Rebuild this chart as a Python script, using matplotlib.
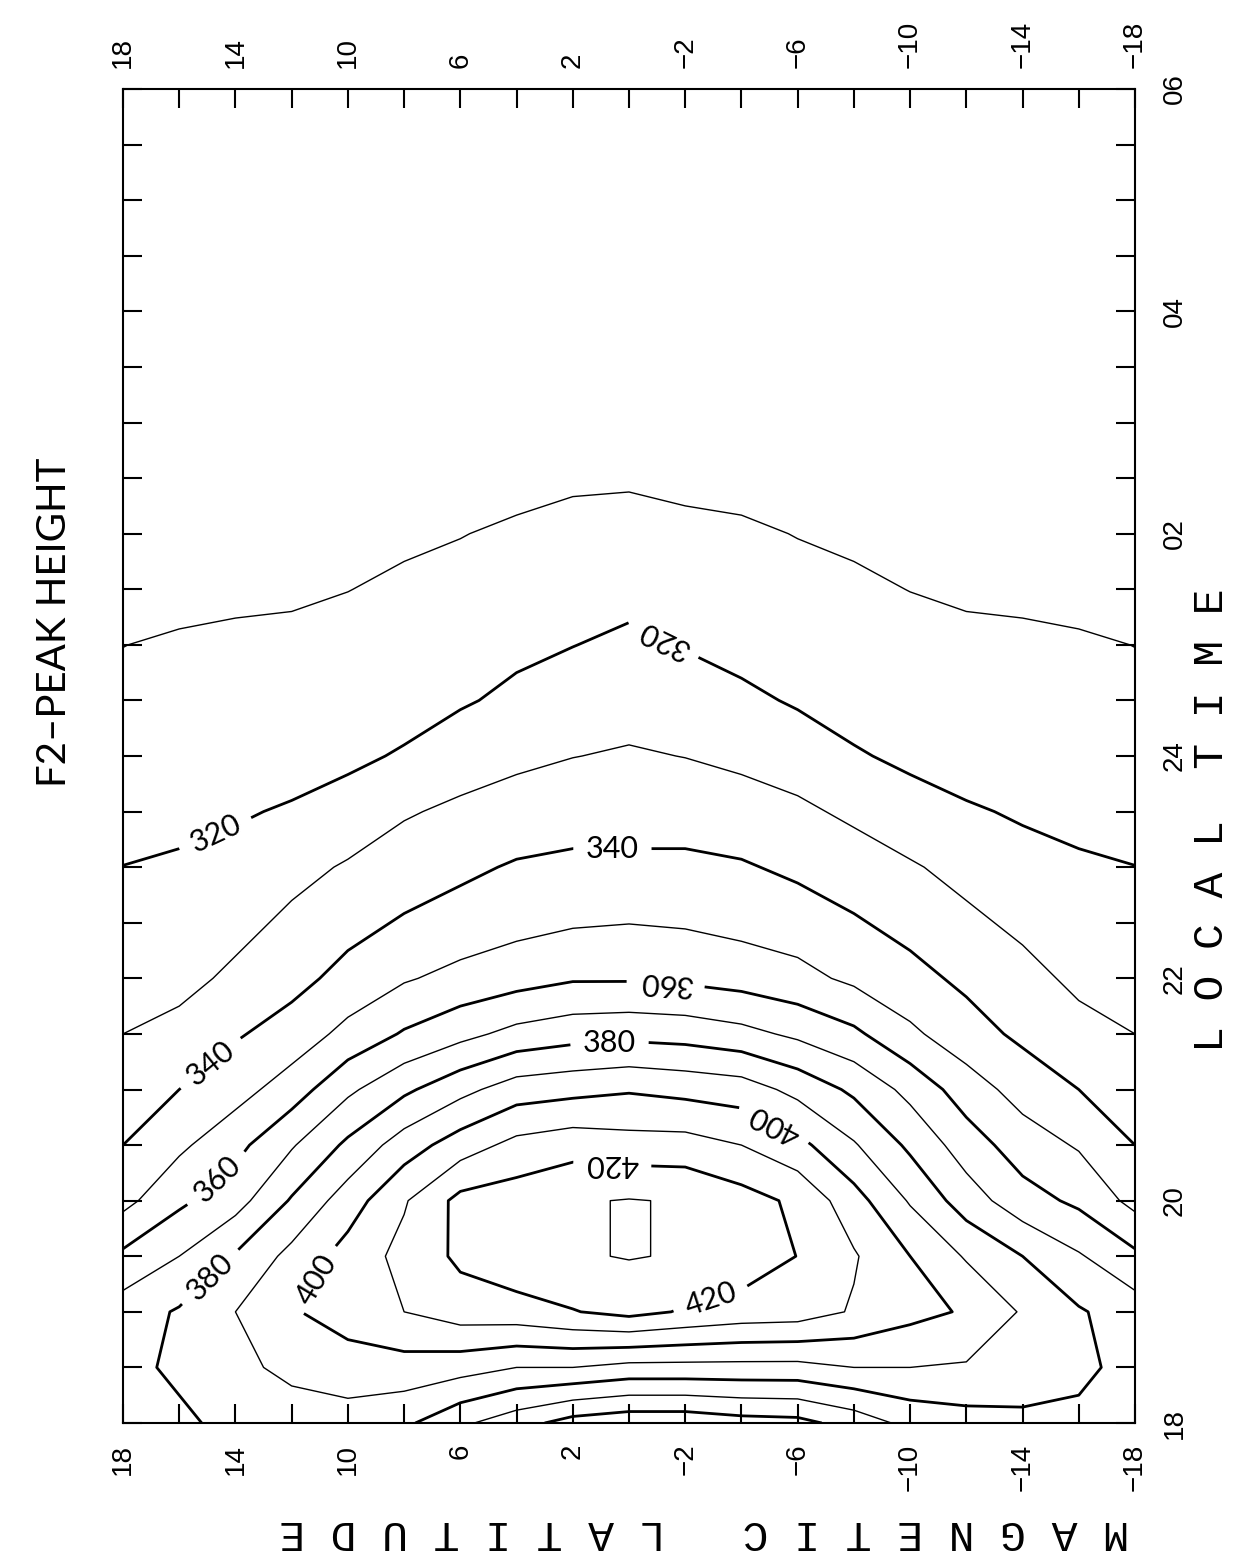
import numpy as np
import matplotlib
matplotlib.use("Agg")
import matplotlib.pyplot as plt

# magnetic latitude (deg) and local time (h, 24 -> 30 means 00 -> 06)
mlat = [18, 16, 14, 12, 10, 8, 6, 4, 2, 0, -2, -4, -6, -8, -10, -12, -14, -16, -18]
ltime = [18.0, 18.5, 19.0, 19.5, 20.0, 20.5, 21.0, 21.5, 22.0, 22.5, 23.0, 23.5, 24.0,
         24.5, 25.0, 25.5, 26.0, 26.5, 27.0, 27.5, 28.0, 28.5, 29.0, 29.5, 30.0]

# F2 peak height (km), one row per local time, one column per latitude
hmf2 = [
    [375, 378, 383, 386, 386, 382, 372, 364, 356, 353, 353, 356, 357, 364, 373, 376, 378, 378, 375],
    [377, 382, 388, 392, 395, 396, 394, 390, 390, 387, 387, 387, 387, 390, 390, 389, 385, 382, 377],
    [375, 381, 390, 399, 405, 410, 415, 416, 419.5, 423, 419, 416, 415, 409, 403, 399, 389, 381, 375],
    [362, 370, 381, 393, 404, 413, 422, 427, 429, 430.5, 429.2, 426, 419.8, 411, 400, 389, 380, 371, 362],
    [347, 358, 366, 381, 395, 409, 423, 425, 429, 430.5, 429.2, 424, 418, 404, 389, 375, 364, 358, 347],
    [340, 348, 357, 369, 382, 395, 405, 413, 416, 414, 414, 410, 403, 391, 378, 365, 355, 349, 340],
    [335, 340, 346, 355, 368, 378, 387, 395, 397, 399, 397, 395, 387, 378, 367, 355, 346, 340, 334],
    [330, 333, 339, 344, 353, 361, 367, 373, 376, 377, 376, 373, 368, 362, 352, 344, 338, 333, 330],
    [325, 327, 332, 337, 343, 349, 353, 356, 359, 359, 358, 356, 353, 348, 343, 338, 333, 328, 325],
    [322, 324, 327, 332, 337, 341, 344, 347, 349, 349.8, 349, 347, 345, 341, 337, 332, 328, 324, 322],
    [320.1, 321, 323, 327, 331, 335, 338, 341, 342, 342, 342, 341, 338, 335, 331, 327, 323, 321, 320.1],
    [317, 318, 319, 321, 324, 329, 332, 334, 336, 336, 336, 334, 332, 328, 324, 321, 319, 318, 317],
    [315, 315, 315, 316, 318, 321, 325, 328, 329.8, 331, 329.8, 328, 325, 321, 318, 316, 315, 315, 315],
    [312, 313, 313, 313, 314, 316, 319, 322, 325, 326, 324, 322, 319, 316, 314, 313, 313, 313, 312],
    [309.9, 311, 311.3, 311.5, 312, 313, 315, 318, 319.8, 322, 319.5, 317, 315, 313, 312, 311.5, 311.3, 311, 309.9],
    [308, 307.5, 308.6, 309, 309.9, 311, 312, 314, 316, 317, 316, 314, 312, 311, 309.9, 309, 308.6, 307.5, 308],
    [306, 306.5, 307, 307, 308, 309, 309.8, 311, 312, 313, 312, 311, 309.8, 309, 308, 307, 307, 306, 306],
    [304, 305, 305, 305, 306, 307, 307, 308, 309, 309, 308, 308, 307, 307, 306, 305, 305, 304, 304],
    [302, 303, 303, 303, 304, 304, 305, 305, 305, 305, 305, 305, 305, 304, 304, 303, 303, 302, 302],
    [300, 301, 301, 301, 301, 302, 302, 302, 302, 302, 302, 302, 302, 302, 301, 301, 301, 300, 300],
    [298, 299, 299, 299, 299, 299, 299, 299, 299, 299, 299, 299, 299, 299, 299, 299, 298, 298, 298],
    [297, 297, 297, 297, 296, 296, 296, 296, 296, 296, 296, 296, 296, 296, 296, 296, 296, 296, 296],
    [295, 295, 294, 294, 294, 294, 293, 293, 293, 293, 293, 293, 293, 294, 294, 294, 294, 294, 294],
    [293, 292, 292, 292, 291, 291, 291, 290, 290, 290, 290, 290, 291, 291, 291, 291, 292, 292, 292],
    [291, 290, 290, 289, 289, 288, 288, 288, 287, 287, 287, 288, 288, 288, 289, 289, 289, 290, 290],
]

thin_levels = [310, 330, 350, 370, 390, 410, 430]
bold_levels = [320, 340, 360, 380, 400, 420]
# where the contour labels sit (lat, local time) and how they are turned
label_pos = [(14.66, 23.27), (-1.2, 25.03), (14.86, 21.23), (0.59, 23.2), (14.68, 20.2), (-1.3, 21.93),
             (14.92, 19.32), (0.69, 21.41), (11.12, 19.29), (-5.16, 20.68), (0.6, 20.3), (-2.9, 19.12)]
label_rot = [25, 154, 39, 0, 44, 176, 45, 0, 59, 153, 180, 18]

lat_ticks = [18, 14, 10, 6, 2, -2, -6, -10, -14, -18]
lat_minor = [16, 12, 8, 4, 0, -4, -8, -12, -16]
time_ticks = [18, 20, 22, 24, 26, 28, 30]
time_labels = ["18", "20", "22", "24", "02", "04", "06"]

fig = plt.figure(figsize=(12.59, 15.66), dpi=100)
ax = fig.add_axes([123 / 1259, 1 - 1423 / 1566, 1012 / 1259, 1334 / 1566])

X, Y = np.meshgrid(mlat, ltime)
Z = np.array(hmf2, dtype=float)
ax.contour(X, Y, Z, levels=thin_levels, colors="black", linewidths=1.0)
cs = ax.contour(X, Y, Z, levels=bold_levels, colors="black", linewidths=2.0)
txts = cs.clabel(manual=label_pos, inline=True, fmt="%d", fontsize=22, inline_spacing=10)
for t, r in zip(txts, label_rot):
    t.set_rotation(r)
    t.set_fontfamily(["Lato", "DejaVu Sans"])

ax.set_xlim(18, -18)
ax.set_ylim(18, 30)
ax.set_xticks(lat_ticks)
ax.set_xticklabels([str(v).replace("-", "\u2212") for v in lat_ticks])
ax.set_xticks(lat_minor, minor=True)
ax.set_yticks(time_ticks)
ax.set_yticklabels(time_labels)
ax.set_yticks(np.arange(18.5, 30, 0.5), minor=True)
ax.tick_params(which="both", direction="in", length=14, width=1.5,
               top=True, bottom=True, left=True, right=True)
ax.tick_params(axis="x", labeltop=True, labelbottom=True, labelrotation=90, labelsize=20, pad=15)
ax.tick_params(axis="y", labelleft=False, labelright=True, labelrotation=90, labelsize=20, pad=19)
for t in ax.get_yticklabels():
    t.set_va("center")
for t in ax.get_xticklabels() + ax.get_yticklabels():
    t.set_fontfamily("Liberation Sans")
for s in ax.spines.values():
    s.set_linewidth(1.5)

fig.text(55 / 1259, 1 - 622 / 1566, "F2\u2013PEAK HEIGHT", rotation=90, ha="center", va="center",
         fontsize=29, family=["Lato", "DejaVu Sans"])
fig.text(1212 / 1259, 1 - 820 / 1566, "L O C A L  T I M E", rotation=90, ha="center", va="center",
         fontsize=31, family="Liberation Mono")
fig.text(704 / 1259, 1 - 1532 / 1566, "M A G N E T I C   L A T I T U D E", rotation=180,
         ha="center", va="center", fontsize=31, family="Liberation Mono")

fig.savefig("out.png", dpi=100)
